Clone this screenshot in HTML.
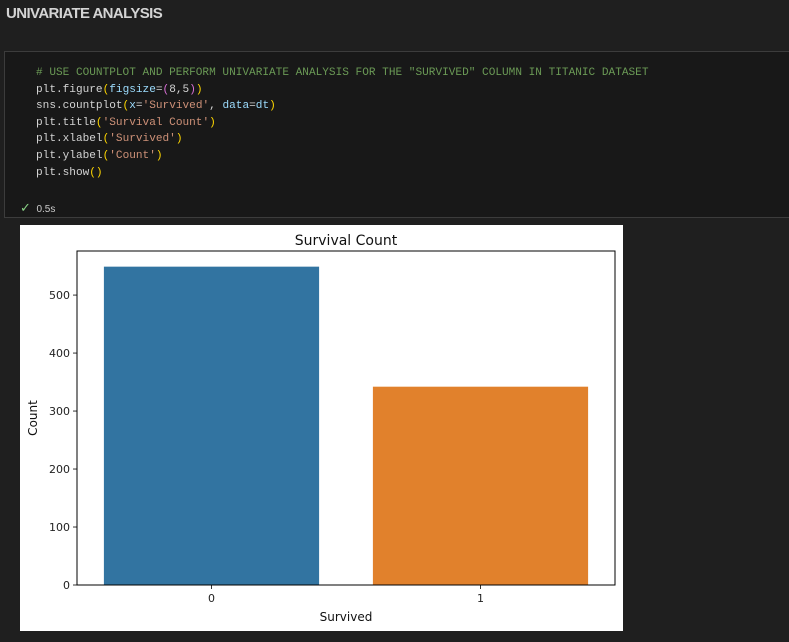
<!DOCTYPE html>
<html><head><meta charset="utf-8"><style>
body{margin:0;width:789px;height:642px;background:#1f1f1f;overflow:hidden;position:relative;font-family:"Liberation Sans",sans-serif}
#hdr{position:absolute;left:6px;top:5px;color:#d4d4d4;font-weight:bold;font-size:15px;letter-spacing:-0.6px}
#cell{position:absolute;left:4px;top:51px;width:790px;height:165px;border:1px solid #3c3c3c;background:#181818}
#code{position:absolute;left:31px;top:13px;font-family:"Liberation Mono",monospace;font-size:11.1px;line-height:16.6px;color:#d4d4d4;white-space:pre}
.c{color:#6a9955}.s{color:#ce9178}.v{color:#9cdcfe}.y{color:#ffd700}.p{color:#da70d6}.f{color:#dcdcaa}
#ok{position:absolute;left:15px;top:148px;font-size:10px;color:#ccc}
#fig{position:absolute;left:20px;top:225px}
</style></head><body>
<div id="hdr">UNIVARIATE ANALYSIS</div>
<div id="cell">
<div id="code"><span class="c"># USE COUNTPLOT AND PERFORM UNIVARIATE ANALYSIS FOR THE "SURVIVED" COLUMN IN TITANIC DATASET</span>
plt.figure<span class="y">(</span><span class="v">figsize</span>=<span class="p">(</span>8,5<span class="p">)</span><span class="y">)</span>
sns.countplot<span class="y">(</span><span class="v">x</span>=<span class="s">'Survived'</span>, <span class="v">data</span>=<span class="v">dt</span><span class="y">)</span>
plt.title<span class="y">(</span><span class="s">'Survival Count'</span><span class="y">)</span>
plt.xlabel<span class="y">(</span><span class="s">'Survived'</span><span class="y">)</span>
plt.ylabel<span class="y">(</span><span class="s">'Count'</span><span class="y">)</span>
plt.show<span class="y">()</span></div>
<div id="ok"><span style="color:#89d185;font-size:13px">✓</span>&nbsp;&nbsp;0.5s</div>
</div>
<svg id="fig" width="603" height="406" font-family="DejaVu Sans, Liberation Sans, sans-serif">
<rect width="603" height="406" fill="#fff"/>
<g id="g"></g>
</svg>
<script>
const categories=['0','1'];
const counts=[549,342];
const colors=['#3274a1','#e1812c'];
const yTicks=[0,100,200,300,400,500];
const ox=20,oy=225;
const L=77-ox,R=615-ox,T=251-oy,B=585-oy;
const ymax=576;
const ys=v=>B-(v/ymax)*(B-T);
const band=(R-L)/categories.length;
const xs=i=>L+band*(i+0.5);
const g=document.getElementById('g');
const NS='http://www.w3.org/2000/svg';
function mk(t,a,txt){const e=document.createElementNS(NS,t);for(const k in a)e.setAttribute(k,a[k]);if(txt!==undefined)e.textContent=txt;g.appendChild(e);return e;}
counts.forEach((v,i)=>{
 const w=band*0.8;
 const r=mk('rect',{x:xs(i)-w/2,y:ys(v),width:w,height:B-ys(v),fill:colors[i]});
 
 
 const t=mk('line',{x1:xs(i),x2:xs(i),y1:B,y2:B+4,stroke:'#000','stroke-width':0.8});
 
 
 const l=mk('text',{x:xs(i),y:B+17,'text-anchor':'middle','font-size':11,fill:'#222'},categories[i]);
 
 
});
yTicks.forEach(v=>{
 const t=mk('line',{x1:L-4,x2:L,y1:ys(v),y2:ys(v),stroke:'#000','stroke-width':0.8});
 
 
 const l=mk('text',{x:L-7,y:ys(v)+4,'text-anchor':'end','font-size':11,fill:'#222'},v);
 
 
});
const fr=mk('rect',{x:L,y:T,width:R-L,height:B-T,fill:'none',stroke:'#000','stroke-width':1});


const ti=mk('text',{x:(L+R)/2,y:T-6,'text-anchor':'middle','font-size':14,fill:'#111'},'Survival Count');


const xl=mk('text',{x:(L+R)/2,y:B+36,'text-anchor':'middle','font-size':12,fill:'#111'},'Survived');


const yl=mk('text',{x:0,y:0,'text-anchor':'middle','font-size':12,fill:'#111',transform:`translate(17,${(T+B)/2}) rotate(-90)`},'Count');


</script>
</body></html>
